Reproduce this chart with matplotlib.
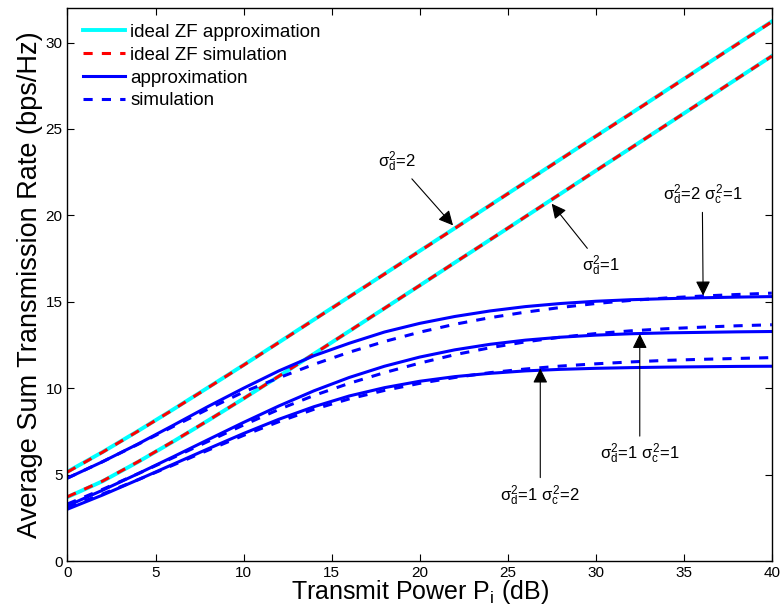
import matplotlib.pyplot as plt
import numpy as np

plt.rcParams['font.family'] = ['Liberation Sans', 'DejaVu Sans']
plt.rcParams['mathtext.fontset'] = 'custom'
plt.rcParams['mathtext.rm'] = 'Liberation Sans'
plt.rcParams['mathtext.it'] = 'Liberation Sans'

# Transmit power (dB)
power_db = [0, 2, 4, 6, 8, 10, 12, 14, 16, 18, 20, 22, 24, 26, 28, 30, 32, 34, 36, 38, 40]

# ideal ZF, sigma_d^2 = 2
zf_d2_approx = [5.17, 6.31, 7.52, 8.77, 10.05, 11.34, 12.65, 13.97, 15.29, 16.61, 17.94,
                19.26, 20.59, 21.92, 23.25, 24.58, 25.90, 27.23, 28.56, 29.89, 31.22]
zf_d2_sim = [5.15, 6.30, 7.51, 8.76, 10.04, 11.33, 12.64, 13.96, 15.28, 16.60, 17.93,
             19.25, 20.58, 21.91, 23.24, 24.57, 25.89, 27.22, 28.55, 29.88, 31.20]
# ideal ZF, sigma_d^2 = 1
zf_d1_approx = [3.70, 4.62, 5.73, 6.91, 8.14, 9.40, 10.69, 11.99, 13.30, 14.62, 15.94,
                17.27, 18.59, 19.92, 21.25, 22.58, 23.90, 25.23, 26.56, 27.89, 29.22]
zf_d1_sim = [3.72, 4.63, 5.74, 6.92, 8.14, 9.40, 10.69, 11.99, 13.30, 14.62, 15.94,
             17.27, 18.59, 19.92, 21.25, 22.58, 23.90, 25.23, 26.56, 27.89, 29.21]

# sigma_d^2 = 2, sigma_c^2 = 1
d2c1_approx = [4.80, 5.75, 6.77, 7.85, 8.95, 10.00, 11.00, 11.88, 12.60, 13.25, 13.75,
               14.15, 14.47, 14.72, 14.90, 15.03, 15.12, 15.18, 15.23, 15.27, 15.30]
d2c1_sim = [4.80, 5.75, 6.75, 7.78, 8.80, 9.78, 10.60, 11.38, 12.08, 12.70, 13.24,
            13.70, 14.08, 14.40, 14.67, 14.90, 15.08, 15.22, 15.33, 15.42, 15.50]
# sigma_d^2 = 1, sigma_c^2 = 1
d1c1_approx = [3.20, 4.10, 5.05, 6.03, 7.03, 8.02, 8.97, 9.85, 10.62, 11.27, 11.80,
               12.22, 12.54, 12.78, 12.95, 13.07, 13.15, 13.20, 13.23, 13.26, 13.28]
d1c1_sim = [3.30, 4.15, 5.05, 5.98, 6.93, 7.87, 8.77, 9.58, 10.28, 10.90, 11.45,
            11.94, 12.34, 12.68, 12.95, 13.16, 13.32, 13.44, 13.53, 13.61, 13.67]
# sigma_d^2 = 1, sigma_c^2 = 2
d1c2_approx = [3.00, 3.82, 4.70, 5.60, 6.50, 7.38, 8.20, 8.93, 9.55, 10.03, 10.40,
               10.67, 10.86, 11.00, 11.09, 11.15, 11.19, 11.22, 11.24, 11.26, 11.27]
d1c2_sim = [3.10, 3.88, 4.70, 5.55, 6.42, 7.27, 8.06, 8.78, 9.38, 9.87, 10.28,
            10.62, 10.90, 11.11, 11.28, 11.41, 11.52, 11.61, 11.67, 11.72, 11.77]

fig = plt.figure(figsize=(7.82, 6.13), dpi=100)
ax = fig.add_axes([0.0863, 0.0848, 0.9007, 0.9022])

lw = 2.2
dash = (0, (3, 3))
ax.plot(power_db, zf_d2_approx, color='cyan', lw=lw + 0.6, label='ideal ZF approximation')
ax.plot(power_db, zf_d2_sim, color='red', lw=lw, ls=dash, label='ideal ZF simulation')
ax.plot(power_db, zf_d1_approx, color='cyan', lw=lw + 0.6)
ax.plot(power_db, zf_d1_sim, color='red', lw=lw, ls=dash)

ax.plot(power_db, d2c1_approx, color='blue', lw=lw, label='approximation')
ax.plot(power_db, d2c1_sim, color='blue', lw=lw, ls=dash, label='simulation')
ax.plot(power_db, d1c1_approx, color='blue', lw=lw)
ax.plot(power_db, d1c1_sim, color='blue', lw=lw, ls=dash)
ax.plot(power_db, d1c2_approx, color='blue', lw=lw)
ax.plot(power_db, d1c2_sim, color='blue', lw=lw, ls=dash)

ax.set_xlim(0, 40)
ax.set_ylim(0, 32)
ax.set_xticks(np.arange(0, 41, 5))
ax.set_yticks(np.arange(0, 31, 5))
ax.tick_params(direction='in', top=True, right=True, labelsize=11, length=5)
for s in ax.spines.values():
    s.set_linewidth(1.0)

ax.set_xlabel(r'Transmit Power P$_\mathregular{i}$ (dB)', fontsize=18, labelpad=-1)
ax.set_ylabel('Average Sum Transmission Rate (bps/Hz)', fontsize=19.5, labelpad=2)

leg = ax.legend(loc='upper left', fontsize=13.5, frameon=False, handlelength=2.2,
                handletextpad=0.3, labelspacing=0.3, borderaxespad=0.45)

arrow = dict(arrowstyle='-|>', color='black', lw=0.8, mutation_scale=22)
ax.annotate(r'$\sigma_d^2$=2', xy=(22.0, 19.3), xytext=(18.7, 23.1), fontsize=12,
            ha='center', va='center', arrowprops=arrow)
ax.annotate(r'$\sigma_d^2$=1', xy=(27.4, 20.8), xytext=(30.3, 17.1), fontsize=12,
            ha='center', va='center', arrowprops=arrow)
ax.annotate(r'$\sigma_d^2$=2 $\sigma_c^2$=1', xy=(36.1, 15.2), xytext=(36.05, 21.2), fontsize=12,
            ha='center', va='center', arrowprops=arrow)
ax.annotate(r'$\sigma_d^2$=1 $\sigma_c^2$=1', xy=(32.5, 13.3), xytext=(32.5, 6.2), fontsize=12,
            ha='center', va='center', arrowprops=arrow)
ax.annotate(r'$\sigma_d^2$=1 $\sigma_c^2$=2', xy=(26.85, 11.3), xytext=(26.85, 3.8), fontsize=12,
            ha='center', va='center', arrowprops=arrow)

plt.savefig('out.png', dpi=100)
